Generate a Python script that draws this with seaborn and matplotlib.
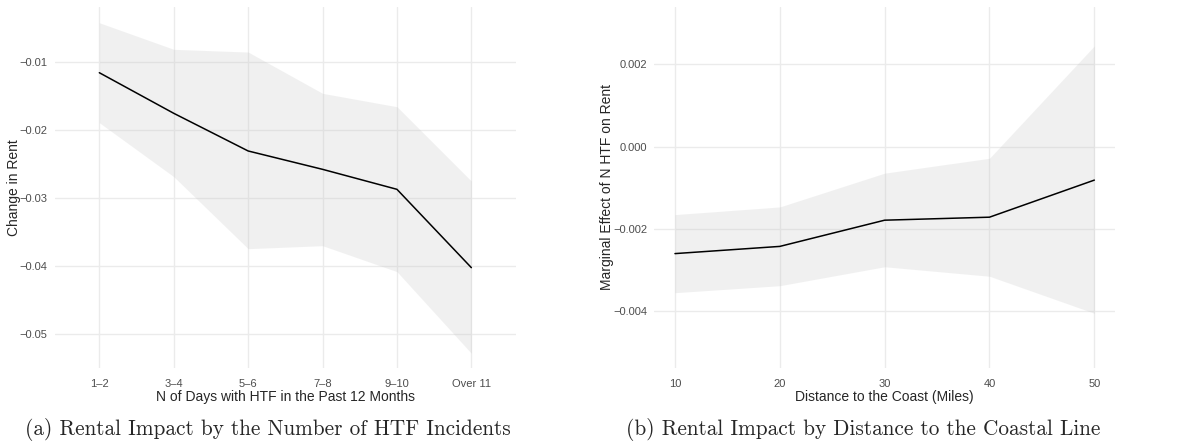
import numpy as np
import pandas as pd
import matplotlib
matplotlib.use("Agg")
import matplotlib.pyplot as plt
import seaborn as sns

# Panel (a): effect of number of HTF days on rent
htf_days = ["1–2", "3–4", "5–6", "7–8", "9–10", "Over 11"]
rent_change = [-0.01153, -0.0175, -0.02304, -0.02574, -0.02868, -0.0402]
rent_upper = [-0.00418, -0.00809, -0.00849, -0.01456, -0.01653, -0.02746]
rent_lower = [-0.01888, -0.02682, -0.03741, -0.03697, -0.04079, -0.0528]

# Panel (b): marginal effect by distance to coast
distance_miles = [10, 20, 30, 40, 50]
marginal_effect = [-0.0026, -0.002425, -0.001788, -0.001715, -0.000814]
effect_upper = [-0.001652, -0.001466, -0.000645, -0.000283, 0.002447]
effect_lower = [-0.00355, -0.00338, -0.00292, -0.00315, -0.00405]

sns.set_theme(style="whitegrid")
plt.rcParams["font.family"] = ["Liberation Sans", "DejaVu Sans"]

GRID = "#ebebeb"
TICK = "#4d4d4d"
RIBBON = "#bebebe"

fig = plt.figure(figsize=(11.82, 4.44), dpi=100)
ax1 = fig.add_axes([54.7 / 1182, 1 - 368 / 444, (516 - 54.7) / 1182, (368 - 6.7) / 444])
ax2 = fig.add_axes([654 / 1182, 1 - 368 / 444, (1115.3 - 654) / 1182, (368 - 6.7) / 444])

df_a = pd.DataFrame({"days": htf_days, "est": rent_change})
pos = np.arange(len(htf_days))
ax1.fill_between(pos, rent_lower, rent_upper, color=RIBBON, alpha=0.22, lw=0, zorder=2)
sns.lineplot(data=df_a, x="days", y="est", ax=ax1, color="black", lw=1.1,
             sort=False, zorder=3)
ax1.set_xlim(-0.6, 5.6)
ax1.set_ylim(-0.05496, -0.00182)
ax1.set_yticks([-0.05, -0.04, -0.03, -0.02, -0.01])
ax1.set_yticklabels(["−0.05", "−0.04", "−0.03", "−0.02", "−0.01"])
ax1.set_xticks(pos)
ax1.set_xticklabels(htf_days)
ax1.set_xlabel("N of Days with HTF in the Past 12 Months", fontsize=10, va="center")
ax1.set_ylabel("Change in Rent", fontsize=10, va="center")
ax1.xaxis.set_label_coords(0.5, -29 / 361.3)
ax1.yaxis.set_label_coords((14 - 54.7) / 461.3, 0.5)

df_b = pd.DataFrame({"dist": distance_miles, "est": marginal_effect})
ax2.fill_between(distance_miles, effect_lower, effect_upper, color=RIBBON, alpha=0.22,
                 lw=0, zorder=2)
sns.lineplot(data=df_b, x="dist", y="est", ax=ax2, color="black", lw=1.1, zorder=3)
ax2.set_xlim(8, 52)
ax2.set_ylim(-0.00538, 0.0034)
ax2.set_yticks([-0.004, -0.002, 0.0, 0.002])
ax2.set_yticklabels(["−0.004", "−0.002", "0.000", "0.002"])
ax2.set_xticks(distance_miles)
ax2.set_xlabel("Distance to the Coast (Miles)", fontsize=10, va="center")
ax2.set_ylabel("Marginal Effect of N HTF on Rent", fontsize=10, va="center")
ax2.xaxis.set_label_coords(0.5, -29 / 361.3)
ax2.yaxis.set_label_coords((606.7 - 654) / 461.3, 0.5)

for ax in (ax1, ax2):
    ax.set_facecolor("white")
    for s in ax.spines.values():
        s.set_visible(False)
    ax.grid(True, color=GRID, lw=1.0, zorder=1)
    ax.set_axisbelow(True)
    ax.tick_params(axis="both", length=0, labelsize=8, labelcolor=TICK)
    ax.tick_params(axis="y", pad=5)
    ax.tick_params(axis="x", pad=8)

fig.text(268 / 1182, 1 - 429 / 444, "(a) Rental Impact by the Number of HTF Incidents",
         ha="center", va="center", fontsize=15.3, family="cmr10")
fig.text(863 / 1182, 1 - 429 / 444, "(b) Rental Impact by Distance to the Coastal Line",
         ha="center", va="center", fontsize=15.3, family="cmr10")

fig.savefig("out.png", dpi=100, facecolor="white")
